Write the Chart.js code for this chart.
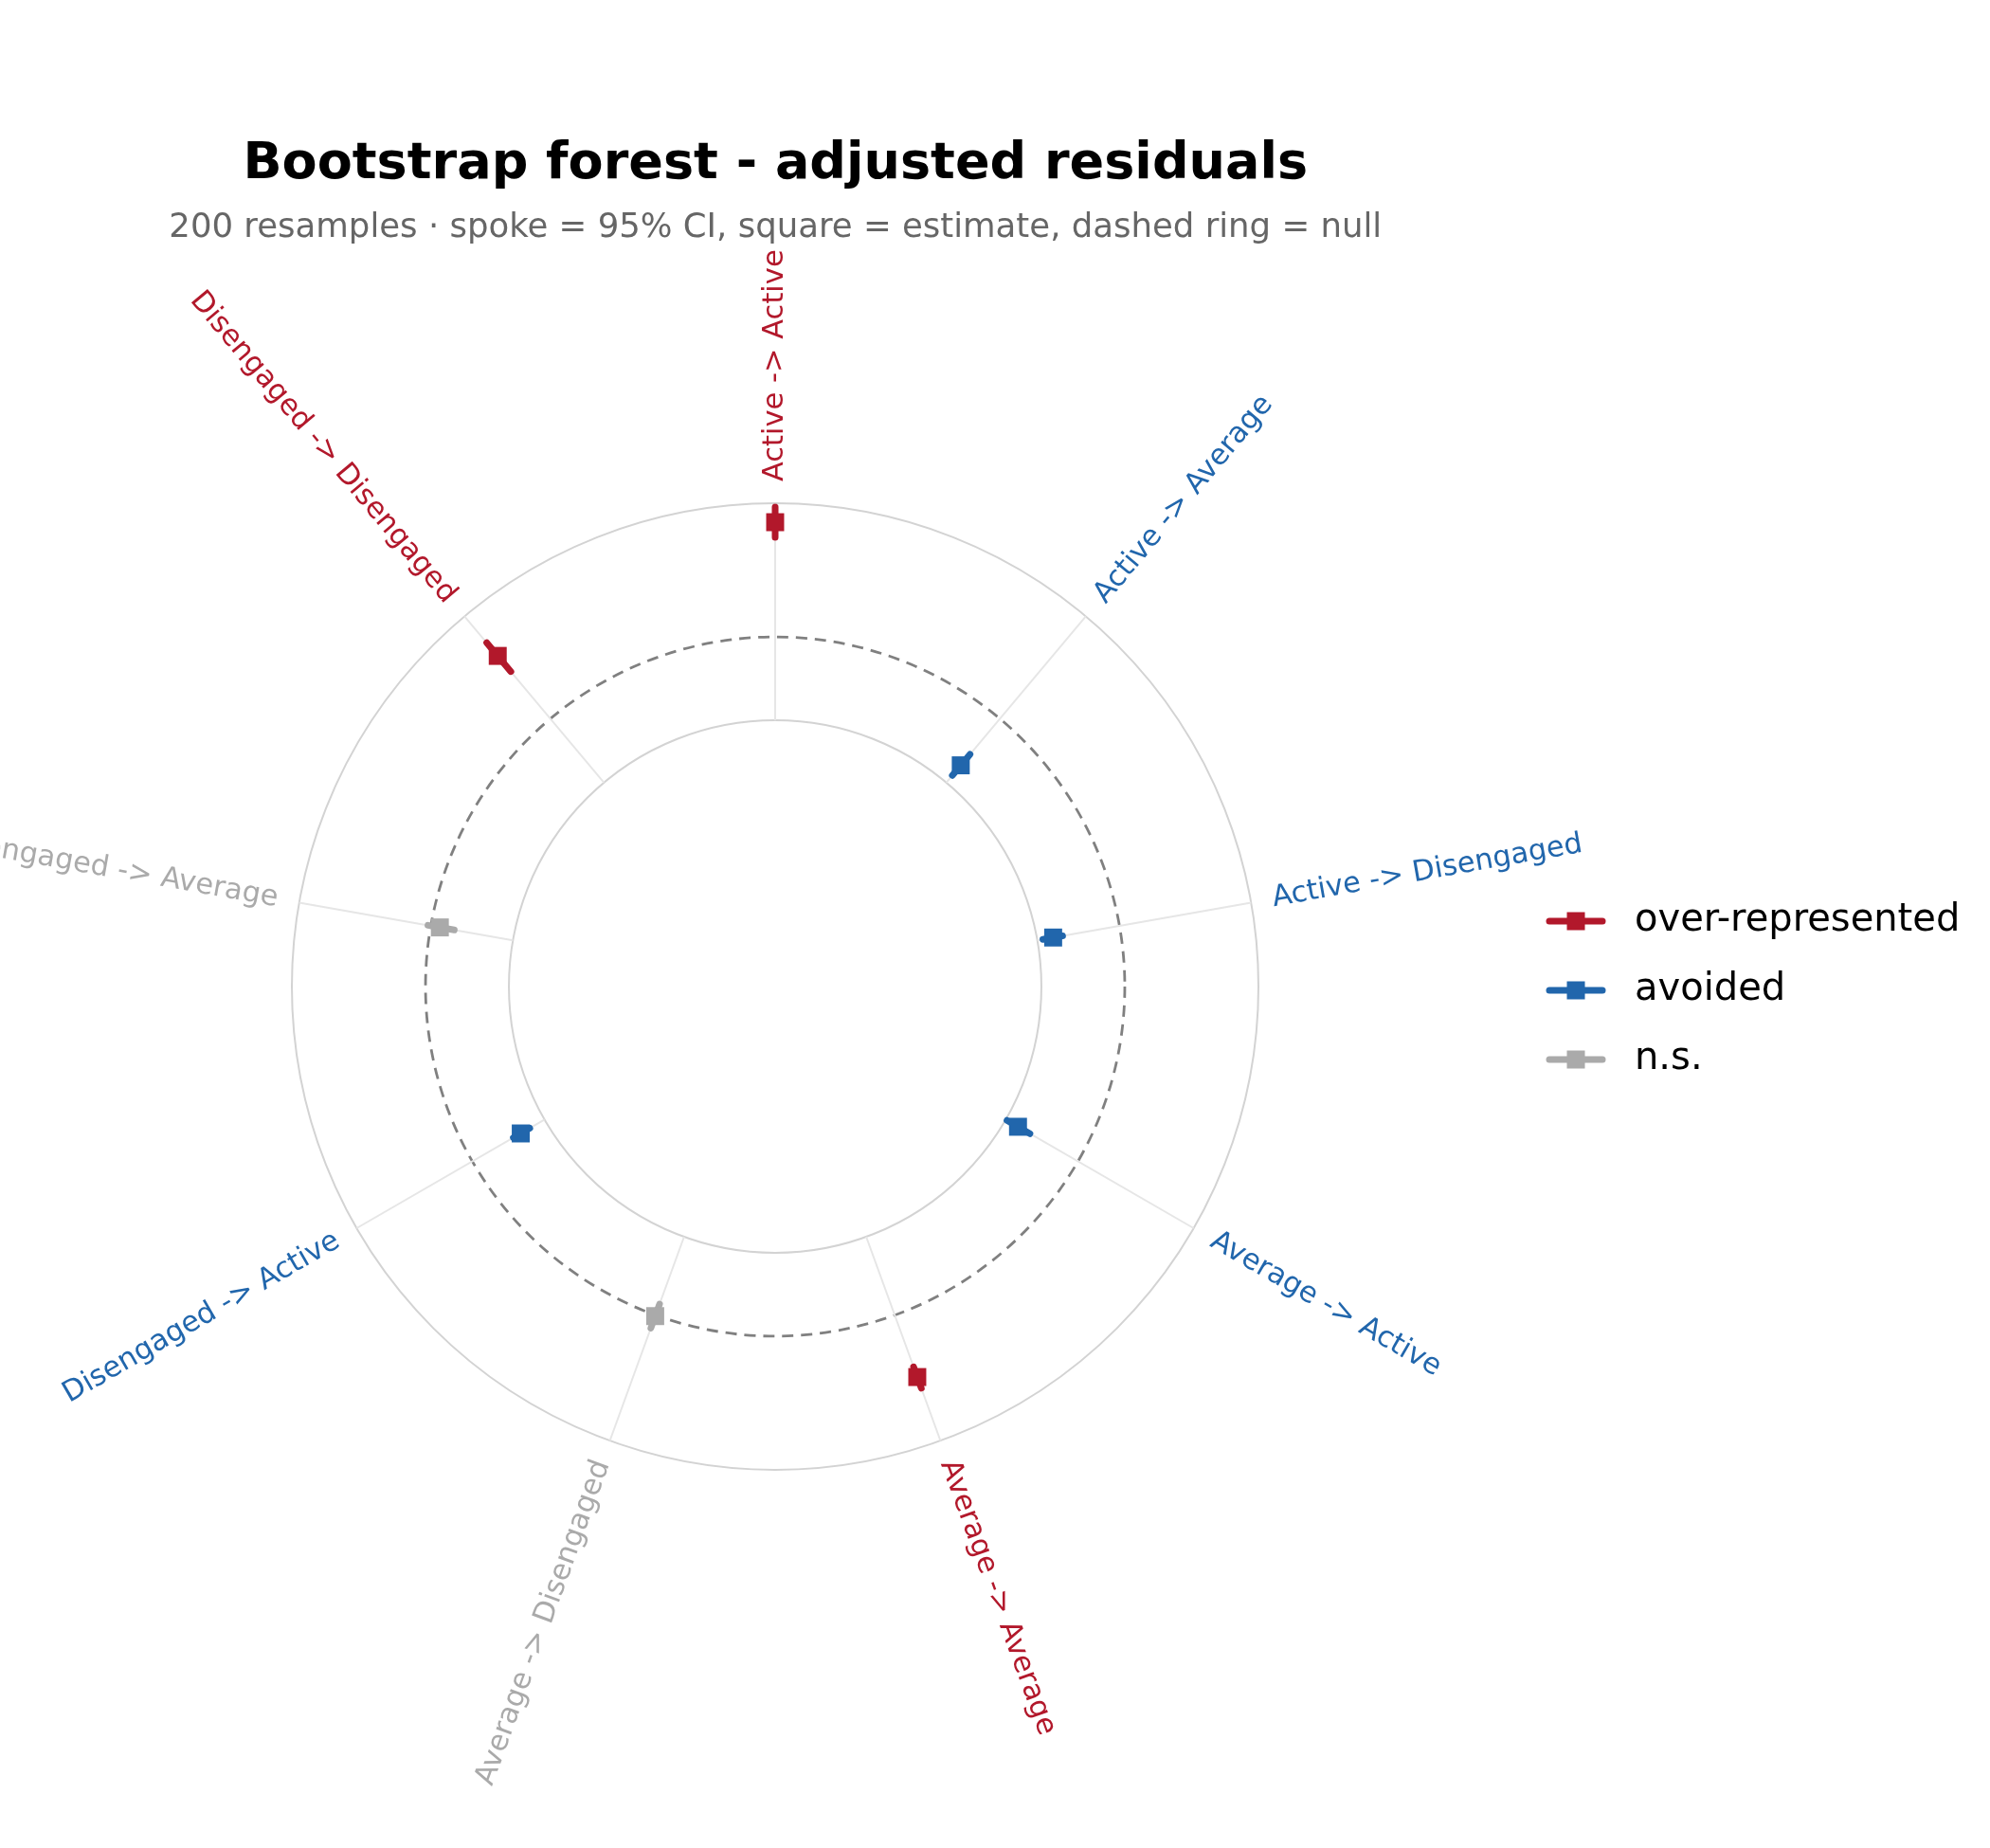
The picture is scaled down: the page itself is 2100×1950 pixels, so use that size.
<!DOCTYPE html>
<html>
<head>
<meta charset="utf-8">
<title>Bootstrap forest - adjusted residuals</title>
<script src="https://cdn.jsdelivr.net/npm/chart.js@4.4.1/dist/chart.umd.min.js"></script>
<style>
  html, body { margin: 0; padding: 0; background: #ffffff; }
  canvas { display: block; }
</style>
</head>
<body>
<canvas id="chart" width="2100" height="1950"></canvas>
<script>
// transitions, clockwise from the top
const transitions = [
  'Active -> Active', 'Active -> Average', 'Active -> Disengaged',
  'Average -> Active', 'Average -> Average', 'Average -> Disengaged',
  'Disengaged -> Active', 'Disengaged -> Average', 'Disengaged -> Disengaged'
];
const estimates = [5.50, -2.92, -3.23, -3.32, 3.16, 0.05, -2.68, -0.44, 3.93];
const ciLow     = [4.77, -3.55, -3.73, -3.93, 2.64, -0.56, -3.18, -1.14, 2.95];
const ciHigh    = [6.23, -2.23, -2.77, -2.66, 3.73, 0.66, -2.27, 0.14, 4.75];
const status    = ['over', 'avoided', 'avoided', 'avoided', 'over', 'ns', 'avoided', 'ns', 'over'];

const groupKeys   = ['over', 'avoided', 'ns'];
const groupNames  = ['over-represented', 'avoided', 'n.s.'];
const groupColors = ['#b2182b', '#2166ac', '#aaaaaa'];

// rings: inner edge, null (dashed), outer edge; value at centre of the hole
const ringValues = [-4, 0, 6.41];
const centreValue = -16.77;

Chart.defaults.font.family = '"DejaVu Sans", sans-serif';

function colorOf(i) {
  return groupColors[groupKeys.indexOf(status[i])];
}

// little line + square used as legend handle
function legendHandle(color) {
  const c = document.createElement('canvas');
  c.width = 84;
  c.height = 24;
  const g = c.getContext('2d');
  g.strokeStyle = color;
  g.lineWidth = 7;
  g.lineCap = 'round';
  g.beginPath();
  g.moveTo(14, 12);
  g.lineTo(70, 12);
  g.stroke();
  g.fillStyle = color;
  g.fillRect(42 - 9.5, 12 - 9.5, 19, 19);
  return c;
}

const forestPlugin = {
  id: 'forest',
  beforeDatasetsDraw(chart) {
    const s = chart.scales.r;
    const ctx = chart.ctx;
    ctx.save();
    // spokes between inner and outer ring
    ctx.strokeStyle = '#e6e6e6';
    ctx.lineWidth = 2;
    transitions.forEach((t, i) => {
      const a = s.getPointPositionForValue(i, ringValues[0]);
      const b = s.getPointPositionForValue(i, ringValues[2]);
      ctx.beginPath();
      ctx.moveTo(a.x, a.y);
      ctx.lineTo(b.x, b.y);
      ctx.stroke();
    });
    // 95% CI along each spoke
    ctx.lineWidth = 7;
    ctx.lineCap = 'round';
    transitions.forEach((t, i) => {
      const a = s.getPointPositionForValue(i, ciLow[i]);
      const b = s.getPointPositionForValue(i, ciHigh[i]);
      ctx.strokeStyle = colorOf(i);
      ctx.beginPath();
      ctx.moveTo(a.x, a.y);
      ctx.lineTo(b.x, b.y);
      ctx.stroke();
    });
    ctx.restore();
  },
  afterDraw(chart) {
    const s = chart.scales.r;
    const ctx = chart.ctx;
    ctx.save();
    ctx.font = '30.5px "DejaVu Sans"';
    ctx.textBaseline = 'middle';
    transitions.forEach((t, i) => {
      const ang = s.getIndexAngle(i) - Math.PI / 2;
      const p = s.getPointPosition(i, s.drawingArea + 23);
      let rot = ang;
      let align = 'left';
      if (Math.cos(ang) < -1e-9) {
        rot = ang - Math.PI;
        align = 'right';
      }
      ctx.save();
      ctx.translate(p.x, p.y);
      ctx.rotate(rot);
      ctx.textAlign = align;
      ctx.fillStyle = colorOf(i);
      ctx.fillText(t, 0, 0);
      ctx.restore();
    });
    ctx.restore();
  }
};

const datasets = groupKeys.map((k, g) => ({
  label: groupNames[g],
  data: estimates.map((v, i) => status[i] === k ? v : null),
  pointStyle: 'rect',
  pointRadius: 13.4,
  pointHoverRadius: 13.4,
  pointBackgroundColor: groupColors[g],
  pointBorderWidth: 0,
  borderColor: 'rgba(0,0,0,0)',
  borderWidth: 0,
  fill: false
}));

new Chart(document.getElementById('chart'), {
  type: 'radar',
  data: { labels: transitions, datasets: datasets },
  options: {
    responsive: false,
    animation: false,
    devicePixelRatio: 1,
    layout: { padding: { top: 0, bottom: 399, left: 48.5, right: 21.7 } },
    scales: {
      r: {
        min: centreValue,
        max: ringValues[2],
        startAngle: 0,
        afterBuildTicks: sc => { sc.ticks = ringValues.map(v => ({ value: v })); },
        ticks: { display: false },
        pointLabels: { display: false },
        angleLines: { display: false },
        grid: {
          circular: true,
          color: c => (c.tick && c.tick.value === 0) ? '#808080' : '#d3d3d3',
          lineWidth: c => (c.tick && c.tick.value === 0) ? 2.8 : 2
        },
        border: {
          dash: c => (c.tick && c.tick.value === 0) ? [12, 8] : []
        }
      }
    },
    plugins: {
      title: {
        display: true,
        text: 'Bootstrap forest - adjusted residuals',
        fullSize: false,
        color: '#000000',
        font: { size: 54, weight: 'bold' },
        padding: { top: 141.6, bottom: 0 }
      },
      subtitle: {
        display: true,
        text: '200 resamples \u00b7 spoke = 95% CI, square = estimate, dashed ring = null',
        fullSize: false,
        color: '#666666',
        font: { size: 35.5 },
        padding: { top: 12.8, bottom: 269.2 }
      },
      legend: {
        position: 'right',
        align: 'center',
        fullSize: false,
        title: { display: true, text: '', color: '#000000', font: { size: 1 }, padding: { top: 6.8, bottom: 0 } },
        labels: {
          color: '#000000',
          font: { size: 40 },
          usePointStyle: true,
          pointStyleWidth: 84,
          padding: 33,
          generateLabels: chart => groupNames.map((n, g) => ({
            text: n,
            fontColor: '#000000',
            pointStyle: legendHandle(groupColors[g]),
            fillStyle: groupColors[g],
            strokeStyle: groupColors[g],
            lineWidth: 0,
            hidden: false,
            datasetIndex: g
          }))
        }
      },
      tooltip: { enabled: false }
    }
  },
  plugins: [forestPlugin]
});
</script>
</body>
</html>
